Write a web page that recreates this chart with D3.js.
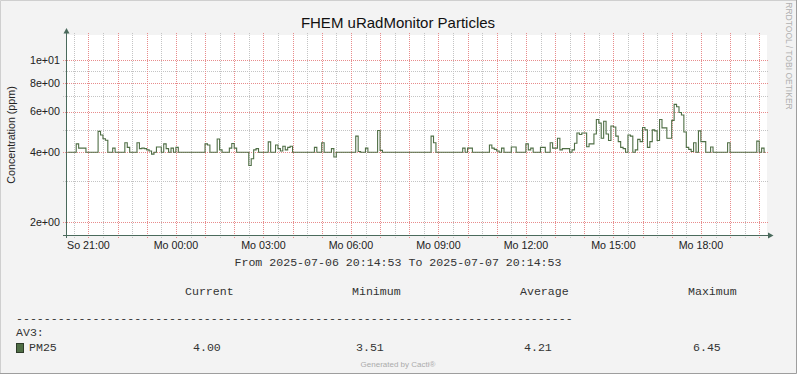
<!DOCTYPE html>
<html><head><meta charset="utf-8">
<script src="https://cdn.jsdelivr.net/npm/d3@7"></script>
<style>body{margin:0;background:#F3F3F3}svg{display:block}</style>
</head><body><svg id="c" width="797" height="374"></svg>
<script>
const title = "FHEM uRadMonitor Particles";
const yAxisTitle = "Concentration (ppm)";
const startTime = "2025-07-06 20:14:53";
const endTime = "2025-07-07 20:14:53";
const stepMinutes = 5;
const pm25 = [
4.0,4.0,4.0,4.0,4.35,4.17,4.17,4.17,4.0,4.0,4.0,4.0,4.0,4.93,4.75,4.58,
4.51,4.0,4.0,4.17,4.0,4.0,4.0,4.0,4.4,4.2,4.0,4.0,4.0,4.4,4.15,4.17,
4.15,4.1,4.05,3.93,4.0,4.22,4.22,4.0,4.35,4.15,4.0,4.17,4.0,4.2,4.0,4.0,
4.0,4.0,4.0,4.0,4.0,4.0,4.0,4.0,4.0,4.35,4.3,4.0,4.0,4.0,4.57,4.1,
4.0,4.0,4.0,4.17,4.37,4.17,4.0,4.0,4.0,4.0,4.0,3.51,3.75,4.1,4.15,4.0,
4.0,4.0,4.0,4.44,4.0,4.0,4.3,4.15,4.05,4.25,4.1,4.2,4.25,4.0,4.0,4.0,
4.0,4.0,4.0,4.0,4.0,4.0,4.2,4.0,4.0,4.4,4.0,4.0,4.0,4.15,3.82,4.0,
4.0,4.0,4.0,4.0,4.0,4.0,4.0,4.7,4.03,4.0,4.0,4.17,4.0,4.0,4.0,4.0,
4.97,4.08,4.0,4.0,4.0,4.0,4.0,4.0,4.0,4.0,4.0,4.0,4.0,4.0,4.0,4.0,
4.0,4.0,4.0,4.0,4.0,4.0,4.7,4.4,4.0,4.0,4.0,4.0,4.0,4.0,4.0,4.0,
4.0,4.0,4.0,4.17,4.0,4.17,4.17,4.0,4.0,4.0,4.0,4.0,4.0,4.0,4.3,4.17,
4.12,4.05,4.0,4.17,4.0,4.0,4.0,4.22,4.22,4.0,4.0,4.0,4.0,4.35,4.1,4.17,
4.0,4.0,4.0,4.2,4.2,4.0,4.0,4.4,4.17,4.17,4.6,4.1,4.15,4.15,4.15,4.0,
4.1,4.38,4.85,4.78,4.85,4.85,4.23,4.35,4.35,4.8,5.55,5.35,4.6,5.45,4.8,4.5,
5.2,5.15,4.7,4.45,4.2,4.15,4.0,4.75,4.7,4.0,4.1,4.55,4.45,5.12,5.0,4.2,
4.45,5.0,4.95,4.5,5.55,5.1,5.1,4.6,4.6,5.5,6.45,6.3,5.95,5.8,4.9,4.2,
4.12,4.03,4.4,4.0,4.95,4.45,4.45,4.0,4.0,4.22,4.0,4.0,4.0,4.0,4.0,4.0,
4.4,4.0,4.0,4.0,4.0,4.0,4.0,4.0,4.0,4.0,4.0,4.0,4.47,4.0,4.17,4.0
];
const yMajorTicks = [2, 4, 6, 8, 10];
const yMajorLabels = ["2e+00", "4e+00", "6e+00", "8e+00", "1e+01"];
const yMinorTicks = [3, 5, 7, 9];
const yDomain = [1.756, 12.865];
const dayNames = ["So", "Mo", "Di", "Mi", "Do", "Fr", "Sa"];
const legendHeaders = ["Current", "Minimum", "Average", "Maximum"];
const legendValues = ["4.00", "3.51", "4.21", "6.45"];
const seriesGroup = "AV3:";
const seriesName = "PM25";
const footer = "Generated by Cacti®";
const watermark = "RRDTOOL / TOBI OETIKER";

const W = 797, H = 374;
const X0 = 66.5, X1 = 766.5, Y0 = 235, Y1 = 35;
const lineColor = "#4F6E45";
const axisColor = "#4A6A5C";
const majorColor = "#E88C8C";
const minorColor = "#C4C4C4";
const textColor = "#333";
const sans = "'Liberation Sans', Arial, sans-serif";
const mono = "'Liberation Mono', monospace";

const parse = d3.timeParse("%Y-%m-%d %H:%M:%S");
const t0 = parse(startTime), t1 = parse(endTime);
const x = d3.scaleTime().domain([t0, t1]).range([X0, X1]);
const y = d3.scaleLog().domain(yDomain).range([Y0, Y1]);

const svg = d3.select("#c");
svg.append("rect").attr("x",0).attr("y",0).attr("width",W).attr("height",H).attr("fill","#F3F3F3");
svg.append("path").attr("d",`M0.5,${H}V0.5H${W}`).attr("stroke","#CFCFCF").attr("fill","none");
svg.append("path").attr("d",`M${W-0.5},0V${H-0.5}H0`).attr("stroke","#9E9E9E").attr("fill","none");
svg.append("rect").attr("x",67).attr("y",Y1).attr("width",700).attr("height",Y0-Y1).attr("fill","#FFFFFF");

const g = svg.append("g").attr("shape-rendering","crispEdges");
function hLine(v, color) {
  const yy = Math.round(y(v)) + 0.5;
  g.append("line").attr("x1",63).attr("x2",769).attr("y1",yy).attr("y2",yy)
    .attr("stroke",color).attr("stroke-dasharray","1,1");
}
function vLine(d, color) {
  const xx = Math.round(x(d)) + 0.5;
  g.append("line").attr("x1",xx).attr("x2",xx).attr("y1",33).attr("y2",238)
    .attr("stroke",color).attr("stroke-dasharray","1,1");
}
const minorTimes = d3.timeMinute.every(30).range(t0, t1).filter(d => d.getMinutes() === 30);
const majorTimes = d3.timeHour.every(1).range(t0, t1);
yMinorTicks.forEach(v => hLine(v, minorColor));
minorTimes.forEach(d => vLine(d, minorColor));
yMajorTicks.forEach(v => hLine(v, majorColor));
majorTimes.forEach(d => vLine(d, majorColor));

const data = pm25.map((v, i) => ({t: new Date(t0.getTime() + (i + 0.5) * stepMinutes * 60000), v}));
svg.append("path").datum(data)
  .attr("d", d3.line().x(d => x(d.t)).y(d => y(d.v)).curve(d3.curveStep))
  .attr("fill","none").attr("stroke",lineColor).attr("stroke-width",1.1);

g.append("line").attr("x1",63).attr("x2",770).attr("y1",Y0+0.5).attr("y2",Y0+0.5).attr("stroke",axisColor);
g.append("line").attr("x1",X0).attr("x2",X0).attr("y1",238).attr("y2",32).attr("stroke",axisColor);
svg.append("path").attr("d",`M768,232.5L773.5,235.5L768,238.5Z`).attr("fill",axisColor);
svg.append("path").attr("d",`M63.5,33.5L66.5,28L69.5,33.5Z`).attr("fill",axisColor);

yMajorTicks.forEach((v, i) => {
  svg.append("text").attr("x",60).attr("y",y(v)+3.8).attr("text-anchor","end")
    .attr("font-family",sans).attr("font-size",10.7).attr("fill","#222").text(yMajorLabels[i]);
});
const labelTimes = d3.timeHour.every(3).range(t0, t1);
const fmt = d3.timeFormat("%H:%M");
labelTimes.forEach(d => {
  svg.append("text").attr("x",x(d)).attr("y",249).attr("text-anchor","middle")
    .attr("font-family",sans).attr("font-size",10.7).attr("fill","#222")
    .text(dayNames[d.getDay()] + " " + fmt(d));
});
svg.append("text").attr("transform","translate(14.5,135) rotate(-90)").attr("text-anchor","middle")
  .attr("font-family",sans).attr("font-size",10.7).attr("fill","#222").text(yAxisTitle);
svg.append("text").attr("x",398).attr("y",28).attr("text-anchor","middle")
  .attr("font-family",sans).attr("font-size",15).attr("fill","#111").text(title);
svg.append("text").attr("transform","translate(786,56) rotate(90)").attr("text-anchor","middle")
  .attr("font-family",sans).attr("font-size",8.5).attr("fill","#B0B0B0").text(watermark);
svg.append("text").attr("x",398).attr("y",266).attr("text-anchor","middle")
  .attr("font-family",mono).attr("font-size",11.6).attr("fill",textColor)
  .text("From " + startTime + " To " + endTime);

const headX = [185, 352, 520, 688];
const valX = [193, 356, 524, 693];
legendHeaders.forEach((h, i) => {
  svg.append("text").attr("x",headX[i]).attr("y",295).attr("font-family",mono).attr("font-size",11.6)
    .attr("fill",textColor).text(h);
});
svg.append("text").attr("x",16).attr("y",322).attr("font-family",mono).attr("font-size",11.6)
  .attr("fill",textColor).text("-".repeat(80));
svg.append("text").attr("x",16).attr("y",336).attr("font-family",mono).attr("font-size",11.6)
  .attr("fill",textColor).text(seriesGroup);
svg.append("rect").attr("x",16.5).attr("y",343.5).attr("width",7).attr("height",9)
  .attr("fill",lineColor).attr("stroke","#2E3B2A");
svg.append("text").attr("x",29).attr("y",351).attr("font-family",mono).attr("font-size",11.6)
  .attr("fill",textColor).text(seriesName);
legendValues.forEach((v, i) => {
  svg.append("text").attr("x",valX[i]).attr("y",351).attr("font-family",mono).attr("font-size",11.6)
    .attr("fill",textColor).text(v);
});
svg.append("text").attr("x",398).attr("y",367).attr("text-anchor","middle")
  .attr("font-family",sans).attr("font-size",8).attr("fill","#ABABAB").text(footer);
</script></body></html>
